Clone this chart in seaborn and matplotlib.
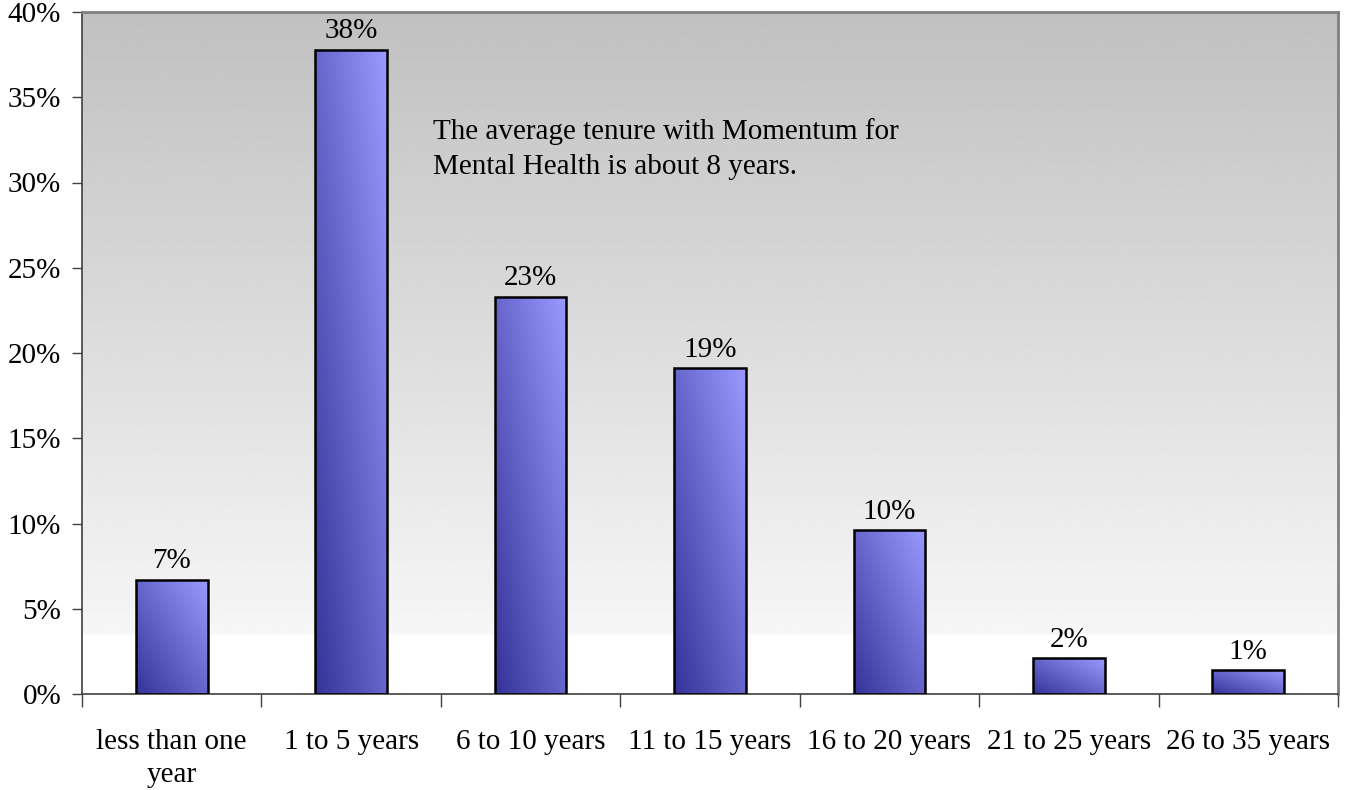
import numpy as np
import pandas as pd
import matplotlib
matplotlib.use("Agg")
import matplotlib.pyplot as plt
from matplotlib.colors import LinearSegmentedColormap
from matplotlib.ticker import FixedLocator, PercentFormatter
import seaborn as sns

# Share of staff by length of service (percent)
categories = ["less than one\nyear", "1 to 5 years", "6 to 10 years", "11 to 15 years",
              "16 to 20 years", "21 to 25 years", "26 to 35 years"]
shares = [6.7, 37.8, 23.3, 19.1, 9.6, 2.1, 1.4]
y_ticks = [0, 5, 10, 15, 20, 25, 30, 35, 40]
note = "The average tenure with Momentum for\nMental Health is about 8 years."

sns.set_theme(style="white")
plt.rcParams["font.family"] = ["Liberation Serif", "DejaVu Serif"]
FS = 21

df = pd.DataFrame({"tenure": categories, "share": shares})

fig = plt.figure(figsize=(13.49, 7.90), dpi=100)
ax = fig.add_axes([82 / 1349, 1 - 694 / 790, (1338 - 82) / 1349, (694 - 12) / 790])

sns.barplot(data=df, x="tenure", y="share", order=categories, width=0.4,
            color="#9999ff", edgecolor="black", linewidth=1.8, ax=ax, zorder=3)

ax.set_xlim(-0.5, len(categories) - 0.5)
ax.set_ylim(0, 40)

# plot-area background: grey at the top fading to white near the baseline
fade_stop = 3.5
ys = np.linspace(40, 0, 800)
bg = np.where(ys >= fade_stop,
              0.965 - (0.965 - 0.753) * (ys - fade_stop) / (40 - fade_stop),
              1.0)
bg_img = np.repeat(bg[:, None], 2, axis=1)
ax.imshow(bg_img, cmap="gray", vmin=0, vmax=1, extent=[-0.5, len(categories) - 0.5, 0, 40],
          aspect="auto", zorder=0, interpolation="bilinear")

# diagonal gradient inside each bar
bar_cmap = LinearSegmentedColormap.from_list("bars", ["#333399", "#9999ff"])
u, v = np.meshgrid(np.linspace(0, 1, 200), np.linspace(0, 1, 200))
diag = (u + v) / 2
for patch, val in zip(ax.patches, shares):
    x0, w = patch.get_x(), patch.get_width()
    y0, h = patch.get_y(), patch.get_height()
    img = ax.imshow(diag, cmap=bar_cmap, vmin=0, vmax=1, origin="lower",
                    extent=[x0, x0 + w, y0, y0 + h], aspect="auto", zorder=2,
                    interpolation="bilinear")
    img.set_clip_path(patch)
    patch.set_facecolor("none")
    ax.annotate(f"{val:.0f}%", (x0 + w / 2, y0 + h), xytext=(0, 4),
                textcoords="offset points", ha="center", va="bottom", fontsize=FS,
                color="black", zorder=4)

ax.text(1.456, 33.8, note, ha="left", va="top", fontsize=FS, color="black",
        linespacing=1.45, zorder=4)

# axes styling
ax.set_xlabel("")
ax.set_ylabel("")
ax.yaxis.set_major_locator(FixedLocator(y_ticks))
ax.yaxis.set_major_formatter(PercentFormatter(decimals=0))
ax.tick_params(axis="y", which="major", left=True, length=7, width=1, color="#404040",
               pad=8, labelsize=FS, labelcolor="black")
ax.tick_params(axis="x", which="major", bottom=False, length=0, pad=25, labelsize=FS,
               labelcolor="black")
ax.xaxis.set_minor_locator(FixedLocator(np.arange(-0.5, len(categories), 1.0)))
ax.tick_params(axis="x", which="minor", bottom=True, length=9, width=1, color="#404040")
for lbl in ax.get_xticklabels():
    lbl.set_linespacing(1.35)

for side in ("left", "bottom"):
    ax.spines[side].set_color("#404040")
    ax.spines[side].set_linewidth(1.2)
for side in ("top", "right"):
    ax.spines[side].set_color("#808080")
    ax.spines[side].set_linewidth(2)
ax.grid(False)

fig.savefig("out.png", dpi=100)
